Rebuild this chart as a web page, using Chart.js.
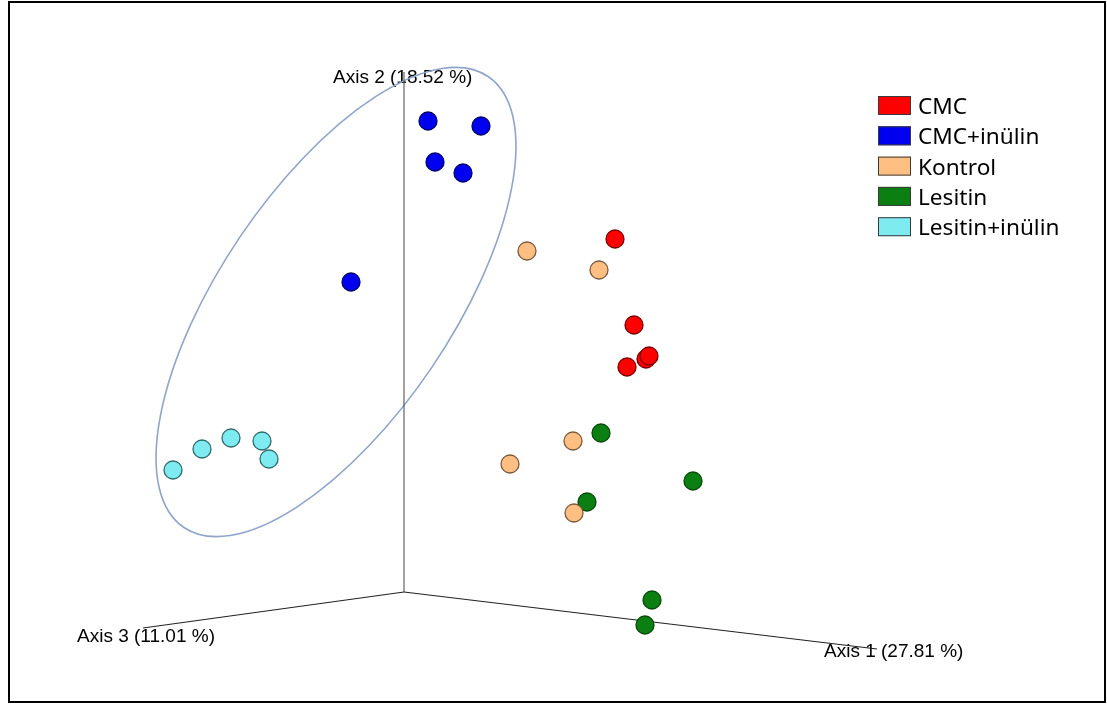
<!DOCTYPE html>
<html>
<head>
<meta charset="utf-8">
<script src="https://cdn.jsdelivr.net/npm/chart.js@4.4.1/dist/chart.umd.min.js"></script>
<style>
  html, body { margin: 0; padding: 0; background: #fff; }
  #wrap { position: relative; width: 1107px; height: 704px; }
  #frame { position: absolute; left: 8px; top: 1px; width: 1094px; height: 698px; border: 2px solid #000; pointer-events: none; }
</style>
</head>
<body>
<div id="wrap">
  <canvas id="pcoa" width="1107" height="704"></canvas>
  <div id="frame"></div>
</div>
<script>
// group names (legend order)
const groups = ['CMC', 'CMC+inülin', 'Kontrol', 'Lesitin', 'Lesitin+inülin'];

// projected PCoA coordinates (screen units)
const cmcX = [615, 634, 627, 646, 649];
const cmcY = [239, 325, 367, 359, 356];
const cmcInulinX = [428, 481, 435, 463, 351];
const cmcInulinY = [121, 126, 162, 173, 282];
const kontrolX = [527, 599, 573, 510, 574];
const kontrolY = [251, 270, 441, 464, 513];
const lesitinX = [601, 693, 587, 652, 645];
const lesitinY = [433, 481, 502, 600, 625];
const lesInulinX = [173, 202, 231, 262, 269];
const lesInulinY = [470, 449, 438, 441, 459];

// the three projected axes: origin and end of each
const axisNames = ['Axis 1 (27.81 %)', 'Axis 2 (18.52 %)', 'Axis 3 (11.01 %)'];
const axisOrigin = [404, 592];
const axisEndX = [877, 404, 143];
const axisEndY = [649, 72, 628];

// ellipse round the inulin groups: centre, half axes, tilt (deg)
const ellipseCenter = [336, 302];
const ellipseRadii = [272, 116];
const ellipseTilt = -56;

const fills = ['#ff0000', '#0000f0', '#ffbf82', '#0b7f12', '#7eebf0'];
const borders = ['#7a0000', '#00006a', '#7a5a3c', '#064a08', '#2f6b6d'];

function pts(xs, ys) {
  return xs.map((x, i) => ({ x: x, y: ys[i] }));
}

const pointSets = [
  pts(cmcX, cmcY), pts(cmcInulinX, cmcInulinY), pts(kontrolX, kontrolY),
  pts(lesitinX, lesitinY), pts(lesInulinX, lesInulinY)
];

const datasets = [];
pointSets.forEach((d, i) => {
  datasets.push({
    label: groups[i],
    data: d,
    backgroundColor: fills[i],
    borderColor: borders[i],
    borderWidth: 1.3,
    pointRadius: 9,
    pointHoverRadius: 9,
    order: 1
  });
});
axisEndX.forEach((x, i) => {
  datasets.push({
    label: 'axis' + (i + 1),
    data: [{ x: axisOrigin[0], y: axisOrigin[1] }, { x: x, y: axisEndY[i] }],
    showLine: true,
    borderColor: i === 1 ? '#555' : '#222',
    borderWidth: 1.1,
    pointRadius: 0,
    order: 5
  });
});

// labels of axes + ellipse, drawn under the marks
const underlay = {
  id: 'underlay',
  beforeDatasetsDraw(chart) {
    const ctx = chart.ctx;
    const xs = chart.scales.x, ys = chart.scales.y;
    ctx.save();
    ctx.font = '19px "Liberation Sans", Arial, sans-serif';
    ctx.fillStyle = '#000';
    ctx.textBaseline = 'alphabetic';
    ctx.textAlign = 'left';
    ctx.fillText(axisNames[0], 824, 657);
    ctx.fillText(axisNames[1], 333, 83);
    ctx.fillText(axisNames[2], 77, 642);

    const cx = xs.getPixelForValue(ellipseCenter[0]);
    const cy = ys.getPixelForValue(ellipseCenter[1]);
    const rx = Math.abs(xs.getPixelForValue(ellipseRadii[0]) - xs.getPixelForValue(0));
    const ry = Math.abs(ys.getPixelForValue(ellipseRadii[1]) - ys.getPixelForValue(0));
    ctx.beginPath();
    ctx.ellipse(cx, cy, rx, ry, ellipseTilt * Math.PI / 180, 0, Math.PI * 2);
    ctx.strokeStyle = '#8fa5c9';
    ctx.lineWidth = 1.6;
    ctx.stroke();
    ctx.restore();
  }
};

// legend box on the right
const legendBox = {
  id: 'legendBox',
  afterDraw(chart) {
    const ctx = chart.ctx;
    ctx.save();
    ctx.font = '22.6px "Noto Sans", sans-serif';
    ctx.textBaseline = 'alphabetic';
    groups.forEach((g, i) => {
      const top = 96 + i * 30.3;
      ctx.fillStyle = fills[i];
      ctx.fillRect(878, top, 33, 19);
      ctx.strokeStyle = '#3a3a3a';
      ctx.lineWidth = 1;
      ctx.strokeRect(878.5, top + 0.5, 32, 18);
      ctx.fillStyle = '#000';
      ctx.fillText(g, 918, top + 18);
    });
    ctx.restore();
  }
};

new Chart(document.getElementById('pcoa').getContext('2d'), {
  type: 'scatter',
  data: { datasets: datasets },
  options: {
    responsive: false,
    animation: false,
    layout: { padding: 0, autoPadding: false },
    plugins: { legend: { display: false }, tooltip: { enabled: false } },
    scales: {
      x: { type: 'linear', min: 0, max: 1107, display: false },
      y: { type: 'linear', min: 0, max: 704, reverse: true, display: false }
    }
  },
  plugins: [underlay, legendBox]
});
</script>
</body>
</html>
